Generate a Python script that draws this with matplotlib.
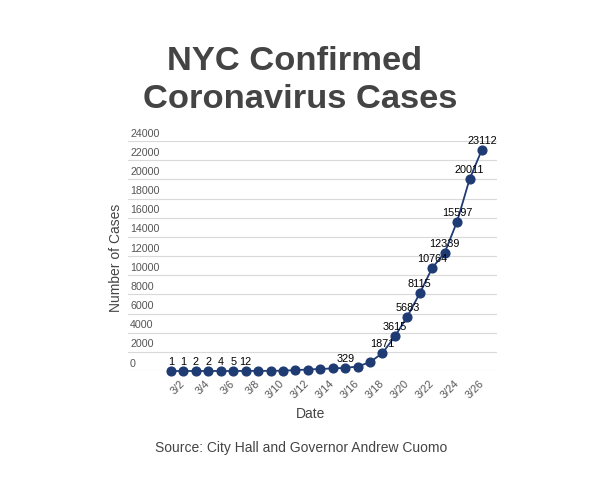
import matplotlib
matplotlib.use("Agg")
import matplotlib.pyplot as plt

plt.rcParams['font.family'] = ['Liberation Sans', 'DejaVu Sans']

# Datos (casos confirmados en NYC, marzo)
dates = ['3/%d' % d for d in range(1, 27)]
cases = [1, 1, 2, 2, 4, 5, 12, 13, 16, 36, 95, 154, 213, 269, 329, 463, 923,
         1871, 3615, 5683, 8115, 10764, 12339, 15597, 20011, 23112]
# etiquetas visibles sobre los puntos (None = sin etiqueta)
point_labels = ['1', '1', '2', '2', '4', '5', '12', None, None, None, None,
                None, None, None, '329', None, None, '1871', '3615', '5683',
                '8115', '10764', '12339', '15597', '20011', '23112']
y_ticks = list(range(0, 24001, 2000))

line_color = '#1f3b73'
grid_color = '#d9d9d9'
text_gray = '#555555'

fig = plt.figure(figsize=(6, 4.89), dpi=100)
W, H = 600, 489
ax = fig.add_axes([128 / W, 1 - 372 / H, (497 - 128) / W, (372 - 142) / H])

x = list(range(len(dates)))
step = (482 - 171) / 25
ax.set_xlim(-(171 - 128) / step, 25 + (497 - 482) / step)
ax.set_ylim(0, 24000)

ax.plot(x, cases, color=line_color, linewidth=1.3, marker='o',
        markersize=6.3, clip_on=False, zorder=3)

# lineas de cuadricula
for v in y_ticks:
    ax.axhline(v, color=grid_color, linewidth=0.8, zorder=1)
    ax.annotate(str(v), xy=(0, v), xycoords=('axes fraction', 'data'),
                xytext=(1.5, 2.5), textcoords='offset points',
                ha='left', va='bottom', fontsize=7.7, color=text_gray)

# etiquetas de datos
for xi, yi, lab in zip(x, cases, point_labels):
    if lab is None:
        continue
    ax.annotate(lab, xy=(xi, yi), xytext=(0, 3.5), textcoords='offset points',
                ha='center', va='bottom', fontsize=7.8, color='black', zorder=4)

for s in ax.spines.values():
    s.set_visible(False)
ax.set_yticks([])
ax.set_xticks(x[1::2])
ax.set_xticklabels(dates[1::2], rotation=45, ha='right', va='center',
                   rotation_mode='anchor', fontsize=7.8, color=text_gray)
ax.tick_params(axis='x', length=0, pad=7)

fig.text(295 / W, 1 - 70 / H, 'NYC Confirmed', ha='center', va='baseline',
         fontsize=24.8, fontweight='bold', color='#444444')
fig.text(300 / W, 1 - 108 / H, 'Coronavirus Cases', ha='center',
         va='baseline', fontsize=24.8, fontweight='bold', color='#444444')

fig.text(116 / W, 1 - 258 / H, 'Number of Cases', rotation=90, ha='center',
         va='center', fontsize=10, color='#444444')
fig.text(311 / W, 1 - 414 / H, 'Date', ha='center', va='center',
         fontsize=10, color='#444444')
fig.text(301 / W, 1 - 448 / H, 'Source: City Hall and Governor Andrew Cuomo',
         ha='center', va='center', fontsize=10, color='#444444')

fig.savefig('out.png', dpi=100, facecolor='white')
